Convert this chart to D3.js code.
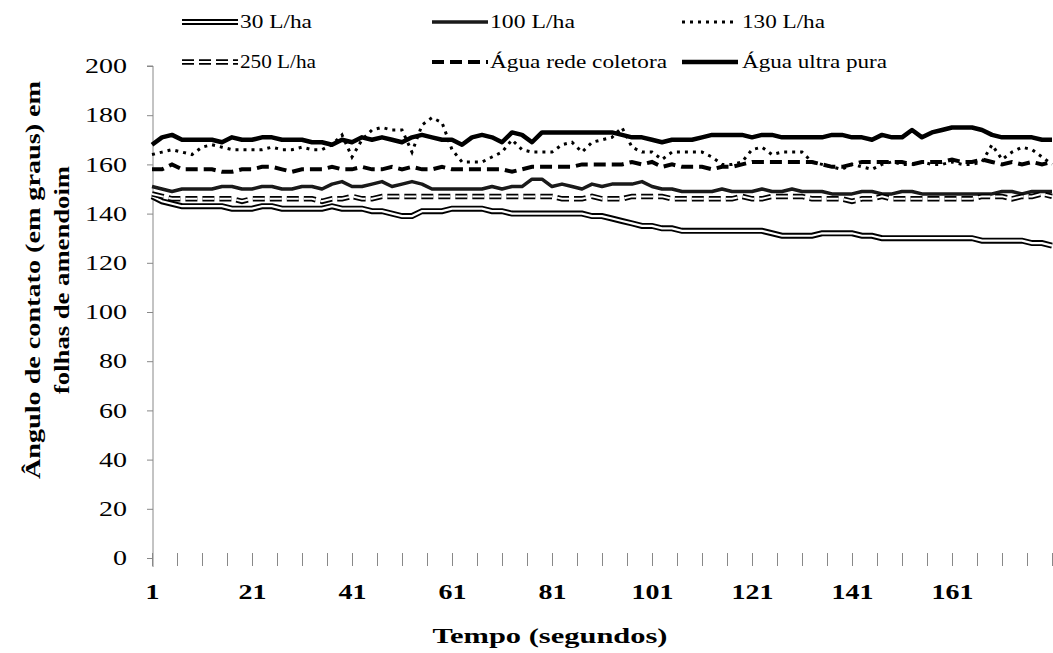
<!DOCTYPE html>
<html>
<head>
<meta charset="utf-8">
<script src="https://cdn.jsdelivr.net/npm/d3@7/dist/d3.min.js"></script>
<style>
  body { margin: 0; background: #fff; }
  text { font-family: "Liberation Serif", "Times New Roman", serif; fill: #000; }
</style>
</head>
<body>
<div class="canvas"></div>
<script>
var width = 1053,
    height = 653;

// seconds sampled every 2 s
var seconds = d3.range(1, 182, 2);
var xTickLabels = [1, 21, 41, 61, 81, 101, 121, 141, 161];
var yTicks = [0, 20, 40, 60, 80, 100, 120, 140, 160, 180, 200];

var l30 = [147,145,144,143,143,143,143,143,142,142,
  142,143,143,142,142,142,142,142,143,142,
  142,142,141,141,140,139,139,141,141,141,
  142,142,142,142,141,141,140,140,140,140,
  140,140,140,140,139,139,138,137,136,135,
  135,134,134,133,133,133,133,133,133,133,
  133,133,132,131,131,131,131,132,132,132,
  132,131,131,130,130,130,130,130,130,130,
  130,130,130,129,129,129,129,129,128,128,127];

var l100 = [151,150,149,150,150,150,150,151,151,150,
  150,151,151,150,150,151,151,150,152,153,
  151,151,152,153,151,152,153,152,150,150,
  150,150,150,150,151,150,151,151,154,154,
  151,152,151,150,152,151,152,152,152,153,
  151,150,150,149,149,149,149,150,149,149,
  149,150,149,149,150,149,149,149,148,148,
  148,149,149,148,148,149,149,148,148,148,
  148,148,148,148,148,149,149,148,149,149,149];

var l130 = [164,165,166,165,164,167,168,167,166,166,
  166,166,167,166,166,167,166,166,168,172,
  163,170,174,175,174,174,165,176,179,177,
  166,161,161,161,163,165,170,166,165,165,
  165,168,169,165,169,170,171,175,167,165,
  165,162,165,165,165,165,163,160,160,161,
  166,167,164,165,165,165,161,160,159,158,
  160,159,158,160,161,160,160,161,160,160,
  161,160,160,161,168,162,165,167,166,163,160];

var l250 = [148,147,146,146,146,146,146,146,146,145,
  146,146,146,146,146,146,146,145,146,146,
  147,146,146,147,147,147,147,147,147,147,
  147,147,147,147,147,147,147,147,147,147,
  147,146,146,146,147,146,146,146,147,147,
  147,147,146,146,146,146,146,146,146,147,
  146,146,147,147,147,147,146,146,146,146,
  145,146,146,147,146,146,146,146,146,146,
  146,146,146,147,147,147,146,147,147,148,147];

var rede = [158,158,160,158,158,158,158,157,157,158,
  158,159,159,158,157,158,158,158,159,158,
  158,159,158,158,159,158,159,158,158,159,
  158,158,158,158,158,158,157,158,159,159,
  159,159,159,160,160,160,160,160,161,160,
  161,159,160,159,159,159,158,159,159,160,
  161,161,161,161,161,161,161,160,159,159,
  160,161,161,161,161,161,160,161,161,161,
  162,161,161,162,161,160,161,160,161,160,161];

var ultraPura = [168,171,172,170,170,170,170,169,171,170,
  170,171,171,170,170,170,169,169,168,170,
  169,171,170,171,170,169,171,172,171,170,
  170,168,171,172,171,169,173,172,169,173,
  173,173,173,173,173,173,173,172,171,171,
  170,169,170,170,170,171,172,172,172,172,
  171,172,172,171,171,171,171,171,172,172,
  171,171,170,172,171,171,174,171,173,174,
  175,175,175,174,172,171,171,171,171,170,170];

var series = [
  { name: "30 L/ha", values: l30, style: "double" },
  { name: "100 L/ha", values: l100, style: "solid", w: 3.5, color: "#1a1a1a" },
  { name: "130 L/ha", values: l130, style: "dot" },
  { name: "250 L/ha", values: l250, style: "doubleDash" },
  { name: "Água rede coletora", values: rede, style: "dash" },
  { name: "Água ultra pura", values: ultraPura, style: "solid", w: 4.5, color: "#000" }
];

var svg = d3.select(".canvas").append("svg")
  .attr("width", width)
  .attr("height", height);

var x = d3.scaleLinear().domain([1, 181]).range([152, 1052]);
var y = d3.scaleLinear().domain([0, 200]).range([558, 66]);

// y axis
var yAxis = svg.append("g")
  .attr("transform", "translate(153,0)")
  .call(d3.axisLeft(y).tickValues(yTicks).tickSize(6).tickPadding(20));
yAxis.select(".domain").attr("stroke", "#888").attr("d", "M-6,66H0V567");
yAxis.selectAll(".tick line").attr("stroke", "#888");
yAxis.selectAll(".tick text")
  .style("font-size", "21px")
  .attr("textLength", d => String(d).length * 14)
  .attr("lengthAdjust", "spacingAndGlyphs")
  .style("font-family", '"Liberation Serif", serif');

// x axis ticks every 5 s, labels every 20 s
var xAxis = svg.append("g")
  .attr("transform", "translate(0,558)")
  .call(d3.axisBottom(x).tickValues(d3.range(1, 182, 5)).tickSize(8)
    .tickFormat(d => xTickLabels.indexOf(d) >= 0 ? d : ""));
xAxis.select(".domain").remove();
xAxis.selectAll(".tick line").attr("stroke", "#888").attr("y1", -5);
xAxis.selectAll(".tick text")
  .attr("y", 25)
  .attr("textLength", d => String(d).length * 14)
  .attr("lengthAdjust", "spacingAndGlyphs")
  .style("font-size", "22px")
  .style("font-weight", "bold")
  .style("font-family", '"Liberation Serif", serif');

// axis titles
svg.append("text")
  .attr("x", 550).attr("y", 643)
  .attr("text-anchor", "middle")
  .attr("textLength", 235)
  .attr("lengthAdjust", "spacingAndGlyphs")
  .style("font-size", "21px").style("font-weight", "bold")
  .text("Tempo (segundos)");

var yt = svg.append("g").attr("transform", "translate(0,280) rotate(-90)");
yt.append("text")
  .attr("x", 0).attr("y", 40)
  .attr("text-anchor", "middle")
  .attr("textLength", 398)
  .attr("lengthAdjust", "spacingAndGlyphs")
  .style("font-size", "22px").style("font-weight", "bold")
  .text("Ângulo de contato (em graus) em");
yt.append("text")
  .attr("x", 0).attr("y", 69)
  .attr("text-anchor", "middle")
  .attr("textLength", 228)
  .attr("lengthAdjust", "spacingAndGlyphs")
  .style("font-size", "22px").style("font-weight", "bold")
  .text("folhas de amendoim");

// draw a path with a given series style
function drawStyled(g, d, s) {
  if (s.style === "double") {
    g.append("path").attr("d", d).attr("fill", "none").attr("stroke", "#000").attr("stroke-width", 6);
    g.append("path").attr("d", d).attr("fill", "none").attr("stroke", "#fff").attr("stroke-width", 2.2);
  } else if (s.style === "doubleDash") {
    g.append("path").attr("d", d).attr("fill", "none").attr("stroke", "#000").attr("stroke-width", 5.5)
      .attr("stroke-dasharray", "12,5");
    g.append("path").attr("d", d).attr("fill", "none").attr("stroke", "#fff").attr("stroke-width", 2)
      .attr("stroke-dasharray", "12,5");
  } else if (s.style === "dot") {
    g.append("path").attr("d", d).attr("fill", "none").attr("stroke", "#000").attr("stroke-width", 3)
      .attr("stroke-dasharray", "3,5");
  } else if (s.style === "dash") {
    g.append("path").attr("d", d).attr("fill", "none").attr("stroke", "#000").attr("stroke-width", 4)
      .attr("stroke-dasharray", "12,6");
  } else {
    g.append("path").attr("d", d).attr("fill", "none").attr("stroke", s.color).attr("stroke-width", s.w)
      .attr("stroke-linejoin", "round");
  }
}

var line = d3.line()
  .x((d, i) => x(seconds[i]))
  .y(d => y(d));

var plot = svg.append("g");
series.forEach(s => {
  drawStyled(plot.append("g"), line(s.values), s);
});

// legend
var legendPos = [
  { x: 182, y: 22, tx: 240 },
  { x: 432, y: 22, tx: 490 },
  { x: 682, y: 22, tx: 742 },
  { x: 182, y: 62, tx: 240 },
  { x: 432, y: 62, tx: 490 },
  { x: 682, y: 62, tx: 742 }
];
var legendLen = [72, 85, 83, 76, 177, 145];

var legend = svg.append("g");
series.forEach((s, i) => {
  var p = legendPos[i];
  var g = legend.append("g");
  drawStyled(g, "M" + p.x + "," + p.y + "H" + (p.x + 56), s);
  g.append("text")
    .attr("x", p.tx).attr("y", p.y + 6)
    .attr("textLength", legendLen[i])
    .attr("lengthAdjust", "spacingAndGlyphs")
    .style("font-size", "18px")
    .text(s.name);
});
</script>
</body>
</html>
